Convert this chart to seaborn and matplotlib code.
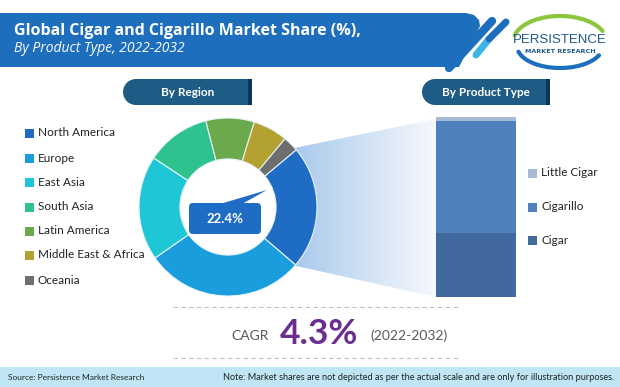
import numpy as np
import matplotlib
matplotlib.use("Agg")
import matplotlib.pyplot as plt
import seaborn as sns
from matplotlib.patches import Polygon, Rectangle, Circle, FancyBboxPatch

# ==================================
# Data
# ==================================
regions = ["North America", "Europe", "East Asia", "South Asia",
           "Latin America", "Middle East & Africa", "Oceania"]
region_share = [22.4, 29.0, 19.0, 11.7, 8.8, 6.3, 2.8]
region_colors = ["#1F6CC4", "#1A9DDC", "#1EC6D6", "#2EC28E",
                 "#6BAA4C", "#B3A131", "#6E6E6E"]

products = ["Cigar", "Cigarillo", "Little Cigar"]
product_share = [35.5, 62.3, 2.2]
product_colors = ["#41699E", "#4F81BD", "#A9BAD6"]

highlight = "22.4%"
cagr = "4.3%"

# ==================================
# Figure
# ==================================
sns.set_theme(style="white")
plt.rcParams["font.family"] = ["Lato", "DejaVu Sans"]

W, H = 620, 387
fig = plt.figure(figsize=(W / 100, H / 100), dpi=100)
fig.patch.set_facecolor("white")

bg = fig.add_axes([0, 0, 1, 1])
bg.set_xlim(0, W)
bg.set_ylim(H, 0)
bg.axis("off")


def px_axes(x0, y0, x1, y1):
    return fig.add_axes([x0 / W, 1 - y1 / H, (x1 - x0) / W, (y1 - y0) / H])


# header banner
banner = Polygon([(0, 13), (466, 13), (474, 15), (479, 20), (480, 26),
                  (459, 67), (0, 67)], closed=True, color="#1E6EBE", lw=0)
bg.add_patch(banner)
bg.plot([449, 492], [68, 21], color="#1E6EBE", lw=6, solid_capstyle="round")
bg.plot([476, 489], [55, 39], color="#3BB4E6", lw=5, solid_capstyle="round")
bg.plot([489, 506], [39, 22], color="#1E6EBE", lw=5, solid_capstyle="round")

bg.text(14, 31, "Global Cigar and Cigarillo Market Share (%),", color="white",
        fontsize=11.5, fontweight="bold", family=["Open Sans", "DejaVu Sans"],
        va="center", ha="left")
bg.text(14, 49, "By Product Type, 2022-2032", color="white", fontsize=10,
        style="italic", family=["Open Sans", "DejaVu Sans"],
        va="center", ha="left")

# logo
t = np.radians(np.linspace(25, 165, 60))
bg.plot(560 + 47 * np.cos(t), 42 - 26 * np.sin(t), color="#8CC63F", lw=3,
        solid_capstyle="round")
t = np.radians(np.linspace(195, 335, 60))
bg.plot(560 + 43 * np.cos(t), 46 - 22 * np.sin(t), color="#1E6EBE", lw=3,
        solid_capstyle="round")
bg.add_patch(Rectangle((514, 29), 92, 26, color="white", lw=0))
bg.text(560, 40, "PERSISTENCE", color="#1F5A8C", fontsize=9.5,
        family=["Liberation Sans", "DejaVu Sans"],
        ha="center", va="center")
bg.text(560, 51.5, "MARKET RESEARCH", color="#1F5A8C", fontsize=4.6,
        fontweight="bold", family=["DejaVu Sans"], ha="center", va="center")


# section pills
def pill(x0, x1, y0, y1, label):
    h = y1 - y0
    r = h / 2
    bg.add_patch(Circle((x0 + r, y0 + r), r, color="#1F5C85", lw=0))
    bg.add_patch(Rectangle((x0 + r, y0), x1 - x0 - r, h, color="#1F5C85", lw=0))
    bg.add_patch(Rectangle((x1 - 4, y0), 4, h, color="#0E3653", lw=0))
    bg.text((x0 + x1) / 2, (y0 + y1) / 2 + 0.5, label, color="white",
            fontsize=8.5, fontweight="bold", ha="center", va="center")


pill(123, 252, 79, 105, "By Region")
pill(422, 550, 79, 105, "By Product Type")

# funnel gradient from donut to bar
funnel = Polygon([(260, 155), (436, 119), (436, 297), (260, 258)],
                 closed=True, facecolor="none", edgecolor="none")
bg.add_patch(funnel)
c0 = np.array([150, 190, 232]) / 255
c1 = np.array([246, 249, 253]) / 255
g = np.linspace(0, 1, 256)[None, :, None]
grad = c0 * (1 - g) + c1 * g
im = bg.imshow(grad, extent=(260, 436, 297, 117), aspect="auto", zorder=1)
im.set_clip_path(funnel)
bg.set_xlim(0, W)
bg.set_ylim(H, 0)

# left legend
leg_y = [133, 158, 182, 207, 231, 255, 280]
for name, col, y in zip(regions, region_colors, leg_y):
    bg.add_patch(Rectangle((25, y - 4.5), 9, 9, color=col, lw=0))
    bg.text(38, y, name, fontsize=8.5, color="#222222", va="center", ha="left")

# right legend
prod_y = [240, 207, 173]
for name, col, y in zip(products, product_colors, prod_y):
    bg.add_patch(Rectangle((528, y - 4.5), 9, 9, color=col, lw=0))
    bg.text(541, y, name, fontsize=8.5, color="#222222", va="center", ha="left")

# CAGR block
bg.plot([173, 460], [307, 307], color="#B8C4CE", lw=0.8, ls=(0, (4, 3)))
bg.plot([173, 460], [358, 358], color="#B8C4CE", lw=0.8, ls=(0, (4, 3)))
bg.text(269, 336, "CAGR", fontsize=10, color="#595959", ha="right", va="center")
bg.text(319, 334, cagr, fontsize=25.5, color="#6B2D8F", fontweight="bold",
        ha="center", va="center")
bg.text(370, 336, "(2022-2032)", fontsize=10, color="#595959",
        ha="left", va="center")

# footer
bg.add_patch(Rectangle((0, 367), W, 20, color="#C0E6F5", lw=0))
bg.text(8, 378, "Source: Persistence Market Research", fontsize=6.0,
        color="#222222", va="center", ha="left")
bg.text(614, 378, "Note: Market shares are not depicted as per the actual scale "
        "and are only for illustration purposes.", fontsize=6.6,
        color="#222222", va="center", ha="right")

# ==================================
# Donut
# ==================================
dax = px_axes(139, 118, 317, 296)
dax.patch.set_alpha(0)
dax.pie(region_share, colors=sns.color_palette(region_colors),
        startangle=40, counterclock=False, radius=1,
        wedgeprops=dict(width=0.46, edgecolor="#E8F4F8", linewidth=0.8))
dax.add_patch(Circle((0, 0), 0.54, color="white", zorder=0.5))
dax.set_xlim(-1, 1)
dax.set_ylim(-1, 1)
dax.axis("off")
bg.set_zorder(0)
dax.set_zorder(1)

# ==================================
# Stacked bar
# ==================================
bax = px_axes(436, 117, 516, 297)
bax.patch.set_alpha(0)
cum = np.cumsum(product_share)
for top, col in zip(cum[::-1], product_colors[::-1]):
    sns.barplot(x=["Total"], y=[top], color=col, width=1, saturation=1,
                ax=bax, linewidth=0)
bax.set_xlim(-0.5, 0.5)
bax.set_ylim(0, 100)
bax.axis("off")
bax.set_zorder(2)

# callout drawn above donut
cax = fig.add_axes([0, 0, 1, 1])
cax.set_xlim(0, W)
cax.set_ylim(H, 0)
cax.axis("off")
cax.patch.set_alpha(0)
cax.set_zorder(3)
cax.add_patch(Polygon([(220, 204), (242, 204), (267, 190)], closed=True,
                      color="#1F6CC4", lw=0))
cax.add_patch(FancyBboxPatch((192, 206), 66, 25,
                             boxstyle="round,pad=3,rounding_size=4",
                             color="#1F6CC4", lw=0))
cax.text(225, 219, highlight, color="white", fontsize=9.5, fontweight="bold",
         ha="center", va="center")

fig.savefig("out.png", dpi=100)
